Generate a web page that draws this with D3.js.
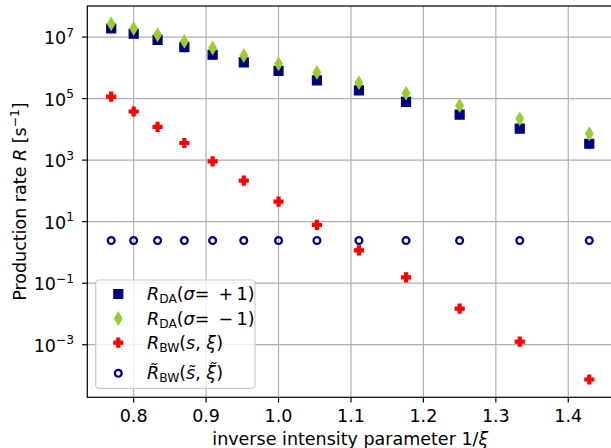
<!DOCTYPE html>
<html><head><meta charset="utf-8">
<script src="https://cdn.jsdelivr.net/npm/d3@7"></script>
<style>
body{margin:0;background:#fff}
text{font-family:"DejaVu Sans",sans-serif;fill:#000}
</style>
</head><body>
<svg id="chart" width="611" height="448"></svg>
<script>
// ---- data ----
const invXi = [0.769, 0.800, 0.833, 0.870, 0.909, 0.952, 1.000, 1.053, 1.111, 1.176, 1.250, 1.333, 1.429];
const rDAplus  = [1.9e7, 1.28e7, 8.1e6, 4.7e6, 2.66e6, 1.5e6, 8.0e5, 3.9e5, 1.85e5, 7.8e4, 3.0e4, 1.05e4, 3.4e3];
const rDAminus = [2.7e7, 1.9e7, 1.19e7, 7.2e6, 4.4e6, 2.5e6, 1.36e6, 7.1e5, 3.3e5, 1.5e5, 5.9e4, 2.2e4, 7.2e3];
const rBW      = [1.15e5, 3.8e4, 1.2e4, 3.6e3, 910, 216, 45, 7.9, 1.17, 0.155, 0.015, 1.26e-3, 7.4e-5];
const rBWtilde = [2.43, 2.43, 2.43, 2.43, 2.43, 2.43, 2.43, 2.43, 2.43, 2.43, 2.43, 2.43, 2.43];
const xTickValues = [0.8, 0.9, 1.0, 1.1, 1.2, 1.3, 1.4];
const yTickExponents = [-3, -1, 1, 3, 5, 7];

// ---- layout ----
const svg = d3.select("#chart");
const L = 87.3, R = 613.2, T = 6, B = 397.3;
const FS = 17.5;

const xmin = d3.min(invXi), xmax = d3.max(invXi), xpad = (xmax - xmin) * 0.05;
const x = d3.scaleLinear().domain([xmin - xpad, xmax + xpad]).range([L, R]);
const allY = [].concat(rDAplus, rDAminus, rBW, rBWtilde).map(Math.log10);
const lmin = d3.min(allY), lmax = d3.max(allY), lpad = (lmax - lmin) * 0.05;
const y = d3.scaleLog().domain([10 ** (lmin - lpad), 10 ** (lmax + lpad)]).range([B, T]);
const yTicks = yTickExponents.map(e => 10 ** e);

// grid
const grid = svg.append("g").attr("stroke", "#b0b0b0").attr("stroke-width", 1.2);
grid.selectAll("line.gx").data(xTickValues).join("line")
  .attr("x1", d => x(d)).attr("x2", d => x(d)).attr("y1", T).attr("y2", B);
grid.selectAll("line.gy").data(yTicks).join("line")
  .attr("x1", L).attr("x2", R).attr("y1", d => y(d)).attr("y2", d => y(d));

// marker symbols
const thinDiamond = {draw(ctx, size) {
  const h = Math.sqrt(size) / 2, w = h * 0.6;
  ctx.moveTo(0, -h); ctx.lineTo(w, 0); ctx.lineTo(0, h); ctx.lineTo(-w, 0); ctx.closePath();
}};
const series = [
  {name: "DA+", data: rDAplus,  sym: d3.symbolSquare, size: 81,  fill: "#000080", stroke: "#000080", sw: 1.2},
  {name: "DA-", data: rDAminus, sym: thinDiamond,     size: 156, fill: "#9acd32", stroke: "#9acd32", sw: 1.2},
  {name: "BW",  data: rBW,      sym: d3.symbolCross,  size: 45,  fill: "#ff0000", stroke: "#ff0000", sw: 1.2},
  {name: "BWt", data: rBWtilde, sym: d3.symbolCircle, size: Math.PI * 3.4 * 3.4, fill: "none", stroke: "#000080", sw: 2.3}
];

const plot = svg.append("g");
series.forEach(s => {
  plot.append("g").selectAll("path").data(s.data.map((v, i) => [invXi[i], v])).join("path")
    .attr("transform", d => `translate(${x(d[0])},${y(d[1])})`)
    .attr("d", d3.symbol(s.sym, s.size)())
    .attr("fill", s.fill).attr("stroke", s.stroke).attr("stroke-width", s.sw);
});

// spines
const sp = svg.append("g").attr("stroke", "#000").attr("stroke-width", 1.2).attr("fill", "none");
sp.append("rect").attr("x", L).attr("y", T).attr("width", R - L).attr("height", B - T);

// x ticks
const xt = svg.append("g");
xt.selectAll("line").data(xTickValues).join("line")
  .attr("x1", d => x(d)).attr("x2", d => x(d)).attr("y1", B).attr("y2", B + 5.2)
  .attr("stroke", "#000").attr("stroke-width", 1.2);
xt.selectAll("text").data(xTickValues).join("text")
  .attr("x", d => x(d)).attr("y", B + 25).attr("text-anchor", "middle")
  .attr("font-size", FS).text(d => d.toFixed(1));

// y ticks
const yt = svg.append("g");
yt.selectAll("line").data(yTicks).join("line")
  .attr("x1", L - 5.2).attr("x2", L).attr("y1", d => y(d)).attr("y2", d => y(d))
  .attr("stroke", "#000").attr("stroke-width", 1.2);
yt.selectAll("text").data(yTickExponents).join("text")
  .attr("x", 74).attr("y", d => y(10 ** d) + 7).attr("text-anchor", "end")
  .attr("font-size", FS)
  .each(function(e) {
    const t = d3.select(this);
    t.append("tspan").text("10");
    t.append("tspan").attr("font-size", FS * 0.7).attr("dy", -7.5).text(e < 0 ? "\u2212" + (-e) : String(e));
  });

// axis labels
svg.append("text").attr("x", (L + R) / 2).attr("y", 444.5).attr("text-anchor", "middle")
  .attr("font-size", FS)
  .call(t => {
    t.append("tspan").text("inverse intensity parameter 1/");
    t.append("tspan").attr("font-style", "italic").text("\u03be");
  });
const yl = svg.append("text").attr("transform", `translate(26,${(T + B) / 2}) rotate(-90)`)
  .attr("text-anchor", "middle").attr("font-size", FS);
yl.append("tspan").text("Production rate ");
yl.append("tspan").attr("font-style", "italic").text("R");
yl.append("tspan").text(" [s");
yl.append("tspan").attr("font-size", FS * 0.7).attr("dy", -7).text("\u22121");
yl.append("tspan").attr("dy", 7).text("]");

// legend
const lg = svg.append("g");
lg.append("rect").attr("x", 95.7).attr("y", 280).attr("width", 159.3).attr("height", 108.3)
  .attr("rx", 3.5).attr("fill", "#fff").attr("fill-opacity", 0.8)
  .attr("stroke", "#cccccc").attr("stroke-width", 1.2);
const rowsY = [294, 318.5, 342.7, 373.3];
const legendParts = [
  [["R", "i"], ["DA", "sub"], ["(", "n"], ["\u03c3", "i"], ["=\u2009 +\u20091)", "n"]],
  [["R", "i"], ["DA", "sub"], ["(", "n"], ["\u03c3", "i"], ["=\u2009 \u2212\u20091)", "n"]],
  [["R", "i"], ["BW", "sub"], ["(", "n"], ["s", "i"], [", ", "n"], ["\u03be", "i"], [")", "n"]],
  [["R\u0303", "i"], ["BW", "sub"], ["(", "n"], ["s\u0303", "i"], [", ", "n"], ["\u03be\u0303", "i"], [")", "n"]]
];
series.forEach((s, i) => {
  lg.append("path").attr("transform", `translate(118.3,${rowsY[i]})`)
    .attr("d", d3.symbol(s.sym, s.size)())
    .attr("fill", s.fill).attr("stroke", s.stroke).attr("stroke-width", s.sw);
  const t = lg.append("text").attr("x", 147).attr("y", rowsY[i] + 6).attr("font-size", FS);
  let shifted = 0;
  legendParts[i].forEach(([str, kind]) => {
    const ts = t.append("tspan").text(str);
    if (kind === "i") ts.attr("font-style", "italic");
    if (kind === "sub") { ts.attr("font-size", FS * 0.7).attr("dy", 3); shifted = 3; }
    else if (shifted) { ts.attr("dy", -shifted); shifted = 0; }
  });
});
</script>
</body></html>
